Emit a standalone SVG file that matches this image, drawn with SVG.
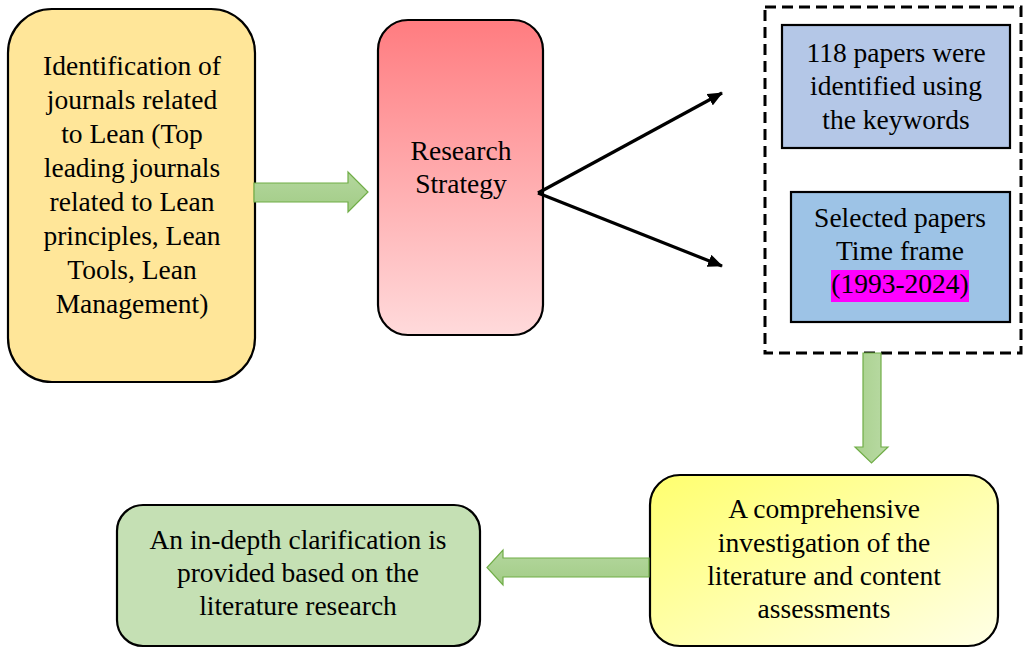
<svg xmlns="http://www.w3.org/2000/svg" width="1023" height="648" viewBox="0 0 1023 648">
  <style>
    .lbl { font-family: "Liberation Serif", "Times New Roman", serif; font-size: 27.5px; fill: #000; text-anchor: middle; }
    .box { stroke: #000; stroke-width: 2.2; }
    .block { stroke: #000; stroke-width: 2.2; }
    .fat { stroke: #70AD47; stroke-width: 1.2; stroke-linejoin: miter; }
    .link { stroke: #000; stroke-width: 3.2; fill: none; }
  </style>
  <defs>
    <linearGradient id="gRed" x1="0" y1="0" x2="0" y2="1">
      <stop offset="0" stop-color="#FF7C80"/>
      <stop offset="1" stop-color="#FFDADB"/>
    </linearGradient>
    <linearGradient id="gYellow" x1="0" y1="0" x2="1" y2="1">
      <stop offset="0" stop-color="#FFFF6E"/>
      <stop offset="1" stop-color="#FFFFE6"/>
    </linearGradient>
    <linearGradient id="gArrowH" x1="0" y1="0" x2="0" y2="1">
      <stop offset="0" stop-color="#B4D79E"/>
      <stop offset="1" stop-color="#A2CC86"/>
    </linearGradient>
    <linearGradient id="gArrowV" x1="0" y1="0" x2="1" y2="0">
      <stop offset="0" stop-color="#A9D18E"/>
      <stop offset="1" stop-color="#B9DAA4"/>
    </linearGradient>
    <marker id="head" viewBox="0 0 15 13" refX="14" refY="6.5" markerWidth="15" markerHeight="13" markerUnits="userSpaceOnUse" orient="auto">
      <path d="M0,0 L15,6.5 L0,13 Z" fill="#000"/>
    </marker>
  </defs>

  <!-- identification of journals -->
  <g id="node-identification">
    <rect class="box" x="8" y="9" width="247" height="373" rx="44" ry="44" fill="#FFE699"/>
    <text class="lbl" x="132" y="75">Identification of</text>
    <text class="lbl" x="132" y="109">journals related</text>
    <text class="lbl" x="132" y="143">to Lean (Top</text>
    <text class="lbl" x="132" y="177">leading journals</text>
    <text class="lbl" x="132" y="211">related to Lean</text>
    <text class="lbl" x="132" y="245">principles, Lean</text>
    <text class="lbl" x="132" y="279">Tools, Lean</text>
    <text class="lbl" x="132" y="313">Management)</text>
  </g>

  <!-- research strategy -->
  <g id="node-strategy">
    <rect class="box" x="378" y="20" width="165" height="315" rx="30" ry="30" fill="url(#gRed)"/>
    <text class="lbl" x="461" y="160">Research</text>
    <text class="lbl" x="461" y="193">Strategy</text>
  </g>

  <!-- paper selection group -->
  <g id="node-selection">
    <rect x="765" y="7" width="256" height="346" fill="none" stroke="#000" stroke-width="3" stroke-dasharray="11 6"/>
  </g>
  <g id="node-keywords">
    <rect class="block" x="782" y="25" width="228" height="123" fill="#B4C7E7"/>
    <text class="lbl" x="896" y="62">118 papers were</text>
    <text class="lbl" x="896" y="95">identified using</text>
    <text class="lbl" x="896" y="129">the keywords</text>
  </g>
  <g id="node-timeframe">
    <rect class="block" x="791" y="192" width="219" height="130" fill="#9DC3E6"/>
    <text class="lbl" x="900" y="227">Selected papers</text>
    <text class="lbl" x="900" y="260">Time frame</text>
    <rect x="831" y="270" width="138" height="32" fill="#FF00FF"/>
    <text class="lbl" x="900" y="293">(1993-2024)</text>
  </g>

  <!-- literature investigation -->
  <g id="node-investigation">
    <rect class="box" x="650" y="475" width="348" height="171" rx="30" ry="30" fill="url(#gYellow)"/>
    <text class="lbl" x="824" y="518">A comprehensive</text>
    <text class="lbl" x="824" y="552">investigation of the</text>
    <text class="lbl" x="824" y="585">literature and content</text>
    <text class="lbl" x="824" y="618">assessments</text>
  </g>

  <!-- clarification -->
  <g id="node-clarification">
    <rect class="box" x="117" y="505" width="363" height="141" rx="26" ry="26" fill="#C5E0B4"/>
    <text class="lbl" x="298" y="549">An in-depth clarification is</text>
    <text class="lbl" x="298" y="582">provided based on the</text>
    <text class="lbl" x="298" y="615">literature research</text>
  </g>

  <!-- connectors -->
  <g id="connectors">
    <path class="fat" fill="url(#gArrowH)" d="M254,183 L348,183 L348,172 L368,192 L348,212 L348,202 L254,202 Z"/>
    <line class="link" x1="538" y1="193" x2="722" y2="93" marker-end="url(#head)"/>
    <line class="link" x1="538" y1="193" x2="722" y2="266" marker-end="url(#head)"/>
    <path class="fat" fill="url(#gArrowV)" d="M863,353 L881,353 L881,447 L888,447 L871.5,463 L855,447 L863,447 Z"/>
    <path class="fat" fill="url(#gArrowH)" d="M649,558 L503,558 L503,550 L487,567.5 L503,585 L503,577 L649,577 Z"/>
  </g>
</svg>
